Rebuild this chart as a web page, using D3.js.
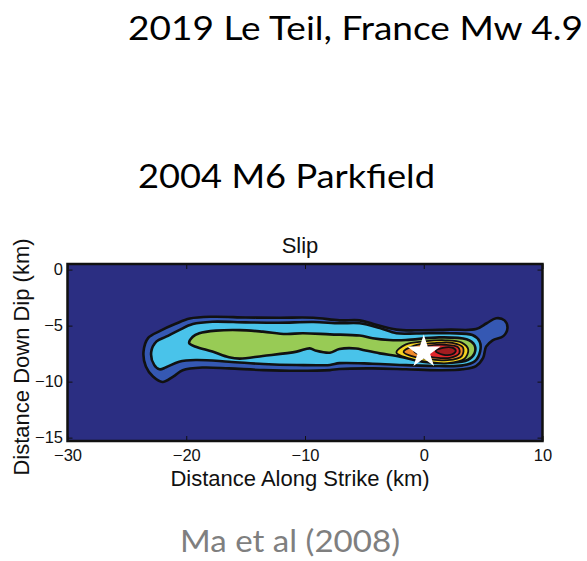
<!DOCTYPE html>
<html>
<head>
<meta charset="utf-8">
<script src="https://cdn.jsdelivr.net/npm/d3@7/dist/d3.min.js"></script>
<style>
  html, body { margin: 0; padding: 0; background: #ffffff; }
  svg { display: block; }
</style>
</head>
<body>
<svg id="chart" width="587" height="561"></svg>
<script>
// Axis ticks (km)
const strikeTicks = [-30, -20, -10, 0, 10];
const dipTicks = [0, -5, -10, -15];

// Slip contour outlines, [distance along strike, distance down dip] in km,
// from the lowest slip level (outermost) to the highest (innermost).
const slipContour1 = [
  [-23.6,-7.35],[-23.2,-6.10],[-22.2,-5.47],[-20.9,-4.84],[-19.7,-4.37],[-17.8,-4.21],
  [-15.0,-4.27],[-12.2,-4.30],[-9.3,-4.30],[-7.1,-4.53],[-5.4,-4.53],[-4.3,-4.84],
  [-2.3,-5.36],[-0.6,-5.42],[2.2,-5.36],[4.4,-5.31],[5.3,-4.79],[6.1,-4.34],
  [6.8,-4.53],[7.05,-5.21],[6.7,-5.94],[5.8,-6.31],[5.25,-6.88],[5.0,-7.88],
  [4.4,-8.61],[3.3,-8.90],[1.3,-8.98],[-1.5,-8.89],[-4.3,-8.82],[-7.1,-8.87],
  [-7.9,-8.97],[-10.7,-9.03],[-13.5,-8.97],[-16.4,-8.82],[-18.6,-8.74],[-20.3,-8.98],
  [-21.1,-9.55],[-22.0,-10.03],[-22.8,-9.55],[-23.4,-8.66]
];
const slipContour2 = [
  [-22.95,-7.35],[-22.5,-6.41],[-21.7,-5.99],[-20.6,-5.40],[-19.45,-4.86],[-17.8,-4.65],
  [-15.0,-4.71],[-12.2,-4.74],[-9.3,-4.68],[-7.1,-4.79],[-5.4,-4.79],[-3.7,-5.21],
  [-2.3,-5.68],[-0.6,-5.70],[2.2,-5.68],[4.1,-5.84],[4.7,-6.41],[4.75,-7.30],
  [4.3,-8.19],[3.3,-8.55],[1.3,-8.61],[-1.5,-8.53],[-4.3,-8.40],[-7.1,-8.35],
  [-7.9,-8.51],[-10.7,-8.52],[-13.5,-8.43],[-16.4,-8.22],[-19.2,-8.07],[-20.6,-8.22],
  [-21.7,-8.72],[-22.25,-8.90],[-22.7,-8.51]
];
const slipContour3 = [
  [-19.75,-6.57],[-19.45,-5.99],[-18.9,-5.68],[-17.5,-5.45],[-15.5,-5.40],[-13.55,-5.54],
  [-11.6,-5.75],[-10.2,-5.68],[-7.9,-5.78],[-5.4,-5.89],[-4.3,-6.13],[-2.9,-6.29],
  [-1.5,-6.29],[1.3,-6.05],[3.6,-6.22],[4.27,-6.73],[4.27,-7.48],[3.7,-8.07],
  [2.2,-8.31],[-0.1,-8.22],[-2.0,-7.77],[-3.7,-7.48],[-5.0,-7.20],[-5.7,-7.04],
  [-7.1,-7.09],[-7.9,-7.42],[-9.06,-7.24],[-9.6,-7.03],[-10.7,-7.32],[-13.55,-7.71],
  [-15.5,-7.95],[-16.4,-7.83],[-17.8,-7.32],[-19.2,-6.88]
];
const slipContour4 = [
  [-2.3,-7.41],[-1.5,-6.67],[0,-6.41],[1.8,-6.31],[3.2,-6.52],[3.75,-7.15],
  [3.4,-7.98],[2.0,-8.35],[0.3,-8.24],[-1.4,-7.88]
];
const slipContour5 = [
  [-1.7,-7.35],[-0.8,-6.78],[0.8,-6.57],[2.4,-6.54],[3.3,-6.94],[3.2,-7.72],
  [2.0,-8.09],[0.4,-7.98],[-1.0,-7.72]
];
const slipContour6 = [
  [-0.8,-7.30],[0.3,-6.83],[1.8,-6.71],[2.9,-6.94],[3.0,-7.46],[2.2,-7.88],
  [0.8,-7.83],[-0.3,-7.62]
];
const slipContour7 = [
  [1.0,-7.27],[1.6,-6.99],[2.4,-6.96],[2.7,-7.25],[2.4,-7.56],[1.6,-7.59]
];

// Hypocenter [along strike, down dip] in km
const hypocenter = [0, -7.35];

// Fill colour per contour level (background is the zero level)
const levelColors = ["#2b2e82", "#3558b3", "#49c3ea", "#98cb55", "#f5d421", "#f08a2c", "#e1262b", "#a11c20"];
const contours = [slipContour1, slipContour2, slipContour3, slipContour4, slipContour5, slipContour6, slipContour7];

const svg = d3.select("#chart");

// Slide headings
const headFont = "Lato, 'Open Sans', sans-serif";
svg.append("text").attr("x", 128).attr("y", 40)
  .attr("font-family", headFont).attr("font-size", 32).attr("fill", "#000")
  .attr("textLength", 455).attr("lengthAdjust", "spacingAndGlyphs")
  .text("2019 Le Teil, France Mw 4.9");
svg.append("text").attr("x", 138).attr("y", 188)
  .attr("font-family", headFont).attr("font-size", 32).attr("fill", "#000")
  .attr("textLength", 297).attr("lengthAdjust", "spacingAndGlyphs")
  .text("2004 M6 Parkfield");
svg.append("text").attr("x", 180).attr("y", 552)
  .attr("font-family", headFont).attr("font-size", 31).attr("fill", "#7f7f7f")
  .attr("textLength", 220).attr("lengthAdjust", "spacingAndGlyphs")
  .text("Ma et al (2008)");

// Plot area
const plot = { left: 67.5, right: 542.5, top: 264, bottom: 441 };
const x = d3.scaleLinear().domain([-30, 10]).range([plot.left, plot.right]);
const y = d3.scaleLinear().domain([-15.3, 0.5]).range([plot.bottom, plot.top]);

const axisFont = "'Liberation Sans', Arial, Helvetica, sans-serif";

svg.append("defs").append("clipPath").attr("id", "plotClip")
  .append("rect")
  .attr("x", plot.left).attr("y", plot.top)
  .attr("width", plot.right - plot.left).attr("height", plot.bottom - plot.top);

const g = svg.append("g").attr("clip-path", "url(#plotClip)");

g.append("rect")
  .attr("x", plot.left).attr("y", plot.top)
  .attr("width", plot.right - plot.left).attr("height", plot.bottom - plot.top)
  .attr("fill", levelColors[0]);

const line = d3.line()
  .x(d => x(d[0]))
  .y(d => y(d[1]))
  .curve(d3.curveCatmullRomClosed.alpha(0.5));

g.selectAll("path.level")
  .data(contours)
  .join("path")
  .attr("class", "level")
  .attr("d", line)
  .attr("fill", (d, i) => levelColors[i + 1])
  .attr("stroke", "#111")
  .attr("stroke-width", (d, i) => i < 3 ? 2.6 : 1.8)
  .attr("stroke-linejoin", "round");

// Hypocenter star
const starR = 17.5;
g.append("path")
  .attr("d", d3.symbol().type(d3.symbolStar).size(starR * starR / 0.8908130915292852)())
  .attr("transform", `translate(${x(hypocenter[0])},${y(hypocenter[1])})`)
  .attr("fill", "#ffffff");

// Axes with inward ticks on all four sides
const xAxis = svg.append("g").attr("transform", `translate(0,${plot.bottom})`)
  .call(d3.axisBottom(x).tickValues(strikeTicks).tickSizeInner(-5).tickSizeOuter(0).tickPadding(8)
    .tickFormat(d => d3.format("")(d).replace("-", "\u2212")));
svg.append("g").attr("transform", `translate(0,${plot.top})`)
  .call(d3.axisTop(x).tickValues(strikeTicks).tickSizeInner(-5).tickSizeOuter(0).tickFormat(""));
const yAxis = svg.append("g").attr("transform", `translate(${plot.left},0)`)
  .call(d3.axisLeft(y).tickValues(dipTicks).tickSizeInner(-5).tickSizeOuter(0).tickPadding(4.5)
    .tickFormat(d => d3.format("")(d).replace("-", "\u2212")));
svg.append("g").attr("transform", `translate(${plot.right},0)`)
  .call(d3.axisRight(y).tickValues(dipTicks).tickSizeInner(-5).tickSizeOuter(0).tickFormat(""));

svg.selectAll(".domain").remove();
svg.selectAll(".tick line").attr("stroke", "#111").attr("stroke-width", 1);
[xAxis, yAxis].forEach(a => a.selectAll("text")
  .attr("font-family", axisFont).attr("font-size", 16.5).attr("fill", "#111"));

// Frame
svg.append("rect")
  .attr("x", plot.left).attr("y", plot.top)
  .attr("width", plot.right - plot.left).attr("height", plot.bottom - plot.top)
  .attr("fill", "none").attr("stroke", "#111").attr("stroke-width", 2.5);

// Title and axis labels
svg.append("text").attr("x", 300).attr("y", 253)
  .attr("text-anchor", "middle").attr("font-family", axisFont).attr("font-size", 22).attr("fill", "#111")
  .text("Slip");
svg.append("text").attr("x", 300).attr("y", 486)
  .attr("text-anchor", "middle").attr("font-family", axisFont).attr("font-size", 22).attr("fill", "#111")
  .text("Distance Along Strike (km)");
svg.append("text")
  .attr("transform", "translate(29,357) rotate(-90)")
  .attr("text-anchor", "middle").attr("font-family", axisFont).attr("font-size", 22).attr("fill", "#111")
  .text("Distance Down Dip (km)");
</script>
</body>
</html>
